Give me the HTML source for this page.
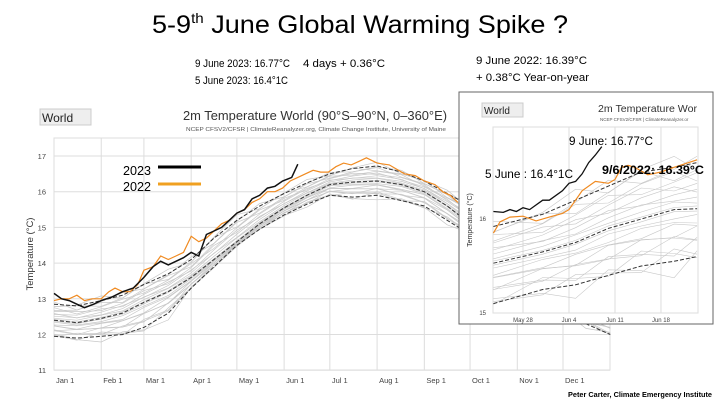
<!DOCTYPE html>
<html><head><meta charset="utf-8"><style>
body{margin:0;background:#fff;width:720px;height:405px;overflow:hidden;font-family:"Liberation Sans",sans-serif}
svg{position:absolute;left:0;top:0}
</style></head><body>
<svg width="720" height="405" id="s">
<text x="152" y="33" font-size="25" fill="#000" textLength="416" lengthAdjust="spacingAndGlyphs">5-9<tspan font-size="14" dy="-10">th</tspan><tspan dy="10"> June Global Warming Spike ?</tspan></text>
<text x="195" y="67" font-size="11" textLength="95" lengthAdjust="spacingAndGlyphs">9 June 2023: 16.77°C</text>
<text x="303" y="67" font-size="11" textLength="82" lengthAdjust="spacingAndGlyphs">4 days + 0.36°C</text>
<text x="195" y="84" font-size="11" textLength="93" lengthAdjust="spacingAndGlyphs">5 June 2023: 16.4°1C</text>
<text x="476" y="64" font-size="11" textLength="111" lengthAdjust="spacingAndGlyphs">9 June 2022: 16.39°C</text>
<text x="476" y="81" font-size="11" textLength="113" lengthAdjust="spacingAndGlyphs">+ 0.38°C Year-on-year</text>
<rect x="40" y="109" width="51" height="16" fill="#eee" stroke="#ccc"/>
<text x="42" y="122" font-size="12" fill="#222">World</text>
<text x="183" y="120" font-size="12.5" fill="#333" textLength="264" lengthAdjust="spacingAndGlyphs">2m Temperature World (90°S–90°N, 0–360°E)</text>
<text x="186" y="131" font-size="5.2" fill="#555" textLength="260" lengthAdjust="spacingAndGlyphs">NCEP CFSV2/CFSR | ClimateReanalyzer.org, Climate Change Institute, University of Maine</text>
<text transform="translate(33,254) rotate(-90)" text-anchor="middle" font-size="9.5" fill="#333">Temperature (°C)</text>
<g id="main"></g>
<g>
<text x="123" y="175" font-size="13" textLength="28" lengthAdjust="spacingAndGlyphs">2023</text>
<line x1="158" y1="167" x2="201" y2="167" stroke="#000" stroke-width="3"/>
<text x="123" y="191" font-size="13" textLength="28" lengthAdjust="spacingAndGlyphs">2022</text>
<line x1="158" y1="184" x2="201" y2="184" stroke="#f0a020" stroke-width="3"/>
</g>
<rect x="459" y="92" width="254" height="232" fill="#fff" stroke="#666" stroke-width="1"/>
<rect x="482" y="103" width="41" height="14" fill="#eee" stroke="#ccc"/>
<text x="484" y="114" font-size="10" fill="#222">World</text>
<text x="598" y="112" font-size="10.5" fill="#333" textLength="99" lengthAdjust="spacingAndGlyphs">2m Temperature Wor</text>
<text x="600" y="121" font-size="4.5" fill="#555">NCEP CFSV2/CFSR | ClimateReanalyzer.or</text>
<text transform="translate(472,220) rotate(-90)" text-anchor="middle" font-size="7" fill="#333">Temperature (°C)</text>
<g id="inset"></g>
<text x="569" y="145" font-size="12" textLength="84" lengthAdjust="spacingAndGlyphs">9 June: 16.77°C</text>
<text x="485" y="178" font-size="12" textLength="88" lengthAdjust="spacingAndGlyphs">5 June : 16.4°1C</text>
<text x="602" y="174" font-size="12" font-weight="bold" textLength="102" lengthAdjust="spacingAndGlyphs">9/6/2022: 16.39°C</text>
<text x="568" y="397" font-size="7.5" font-weight="bold" textLength="144" lengthAdjust="spacingAndGlyphs">Peter Carter, Climate Emergency Institute</text>
</svg>
<script>
// main chart data (day of year, °C)
const mainTicksY=[11,12,13,14,15,16,17];
const monthLabels=["Jan 1","Feb 1","Mar 1","Apr 1","May 1","Jun 1","Jul 1","Aug 1","Sep 1","Oct 1","Nov 1","Dec 1"];
const monthDays=[0,31,59,90,120,151,181,212,243,273,304,334];
const clDays=[0,15,31,45,59,75,90,105,120,135,151,166,181,196,212,228,243,258,273,289,304,319,334,349,365];
const meanVals=[12.4,12.33,12.45,12.6,12.9,13.2,13.6,14.1,14.6,15.1,15.55,15.9,16.2,16.27,16.3,16.2,16.0,15.6,15.1,14.5,13.9,13.4,13.0,12.7,12.5];
const upperVals=[12.85,12.8,12.95,13.1,13.4,13.7,14.1,14.7,15.2,15.6,15.95,16.25,16.5,16.65,16.72,16.55,16.3,15.95,15.6,15.1,14.6,14.1,13.7,13.3,13.0];
const lowerVals=[11.95,11.9,11.95,12.0,12.2,12.6,13.3,13.9,14.5,14.95,15.35,15.65,15.9,15.85,15.9,15.75,15.6,15.2,14.8,14.3,13.7,13.2,12.7,12.3,12.0];
const d2023=[0,5,10,15,20,26,31,38,45,52,59,65,70,75,80,85,90,95,100,105,110,115,120,125,130,135,140,145,150,156,160];
const v2023=[13.15,13.0,12.95,12.85,12.75,12.85,12.95,13.05,13.2,13.3,13.6,13.9,14.05,13.95,14.05,14.15,14.3,14.2,14.8,14.9,15.0,15.2,15.4,15.5,15.8,15.9,16.1,16.15,16.3,16.4,16.77];
const d2022=[0,5,10,15,20,25,31,36,40,45,50,55,59,65,70,75,80,85,90,95,100,105,110,115,120,125,130,135,140,145,150,155,160,165,170,175,180,185,190,195,200,205,212,220,230,237,243,250,255,260,265];
const v2022=[12.95,13.0,13.0,13.1,12.95,13.0,13.0,13.2,13.3,13.2,13.2,13.4,13.8,13.9,14.2,14.1,14.2,14.3,14.75,14.6,14.7,14.9,15.1,15.2,15.4,15.5,15.7,15.8,16.0,16.0,16.1,16.3,16.4,16.5,16.6,16.55,16.55,16.7,16.8,16.75,16.85,16.95,16.8,16.75,16.5,16.45,16.3,16.2,16.0,15.9,15.7];
// inset data
const insetTicksX=["May 28","Jun 4","Jun 11","Jun 18"];
const insetTickDays=[147,154,161,168];
const insetTicksY=[15,16];
const iClDays=[142.5,150,155,160,165,170,173.5];
const iMean=[15.53,15.65,15.75,15.9,16.0,16.1,16.11];
const iUpper=[15.92,16.05,16.2,16.35,16.5,16.55,16.6];
const iLower=[15.1,15.25,15.3,15.4,15.5,15.55,15.6];
const i2023d=[142.5,144,145,146,147,148,150,151,153,154,155,156,157,158,159];
const i2023v=[16.08,16.07,16.1,16.08,16.12,16.1,16.2,16.2,16.3,16.38,16.4,16.48,16.6,16.68,16.77];
const i2022d=[142.5,143.5,145,147,149,151,153,154,156,158,160,161,162,163,164,166,168,170,173.5];
const i2022v=[15.85,15.97,16.02,16.03,15.98,16.02,16.06,16.1,16.3,16.4,16.38,16.42,16.55,16.57,16.55,16.47,16.5,16.55,16.63];

const NS="http://www.w3.org/2000/svg";
function mk(p,t,a){const e=document.createElementNS(NS,t);for(const k in a)e.setAttribute(k,a[k]);p.appendChild(e);return e;}
function path(xs,ys,X,Y){return xs.map((d,i)=>(i?"L":"M")+X(d).toFixed(1)+","+Y(ys[i]).toFixed(1)).join("");}

const mX=d=>54+d*1.524, mY=v=>156+(17-v)*35.7;
const M=document.getElementById("main");
mk(M,"rect",{x:54,y:138,width:556,height:232,fill:"none",stroke:"#ddd"});
mainTicksY.forEach(v=>{
 const g=mk(M,"line",{x1:54,x2:610,y1:mY(v),y2:mY(v),stroke:"#ddd"});
 
 
 const t=mk(M,"text",{x:46,y:mY(v)+3,"font-size":7.5,fill:"#444","text-anchor":"end"});t.textContent=v;
 
 
});
monthDays.forEach((d,i)=>{
 const g=mk(M,"line",{x1:mX(d),x2:mX(d),y1:138,y2:370,stroke:"#ddd"});
 
 
 const t=mk(M,"text",{x:mX(d)+2,y:383,"font-size":7.5,fill:"#444"});t.textContent=monthLabels[i];
 
 
});
function spaghetti(G,days,mean,up,lo,X,Y,w){
 const fr=[-1.1,-0.95,-0.85,-0.75,-0.65,-0.55,-0.45,-0.35,-0.25,-0.15,-0.05,0.05,0.15,0.25,0.35,0.45,0.55,0.65,0.75,0.85,0.95,1.05];
 fr.forEach((f,k)=>{
  const vals=days.map((d,i)=>{const s=f>=0?up[i]-mean[i]:mean[i]-lo[i];return mean[i]+f*s*(1+0.2*((i+k)%3-1));});
  const p=mk(G,"path",{d:path(days,vals,X,Y),fill:"none",stroke:"#c8c8c8","stroke-width":w});
  
  
 });
}
spaghetti(M,clDays,meanVals,upperVals,lowerVals,mX,mY,0.7);
[[upperVals,'upper-2sd-line'],[meanVals,'mean-line'],[lowerVals,'lower-2sd-line']].forEach(([v,n])=>{
 const p=mk(M,"path",{d:path(clDays,v,mX,mY),fill:"none",stroke:"#333","stroke-width":1,"stroke-dasharray":"4,2"});
 
 
});
let p=mk(M,"path",{d:path(d2022,v2022,mX,mY),fill:"none",stroke:"#f08a20","stroke-width":1.2});


p=mk(M,"path",{d:path(d2023,v2023,mX,mY),fill:"none",stroke:"#111","stroke-width":1.5});



const iX=d=>523+(d-147)*6.57, iY=v=>313-(v-15)*94;
const I=document.getElementById("inset");
mk(I,"rect",{x:493,y:127,width:205,height:186,fill:"none",stroke:"#ddd"});
insetTickDays.forEach((d,i)=>{
 const g=mk(I,"line",{x1:iX(d),x2:iX(d),y1:127,y2:313,stroke:"#ddd"});
 
 
 const t=mk(I,"text",{x:iX(d),y:322,"font-size":6,fill:"#444","text-anchor":"middle"});t.textContent=insetTicksX[i];
 
 
});
insetTicksY.forEach(v=>{
 const t=mk(I,"text",{x:486,y:iY(v)+2,"font-size":6,fill:"#444","text-anchor":"end"});t.textContent=v;
 
 
});
spaghetti(I,iClDays,iMean,iUpper,iLower,iX,iY,0.6);
[[iUpper,'inset-upper-line'],[iMean,'inset-mean-line'],[iLower,'inset-lower-line']].forEach(([v,n])=>{
 const q=mk(I,"path",{d:path(iClDays,v,iX,iY),fill:"none",stroke:"#333","stroke-width":1,"stroke-dasharray":"4,2"});
 
 
});
p=mk(I,"path",{d:path(i2022d,i2022v,iX,iY),fill:"none",stroke:"#f08a20","stroke-width":1.2});


p=mk(I,"path",{d:path(i2023d,i2023v,iX,iY),fill:"none",stroke:"#111","stroke-width":1.3});


</script>
</body></html>
